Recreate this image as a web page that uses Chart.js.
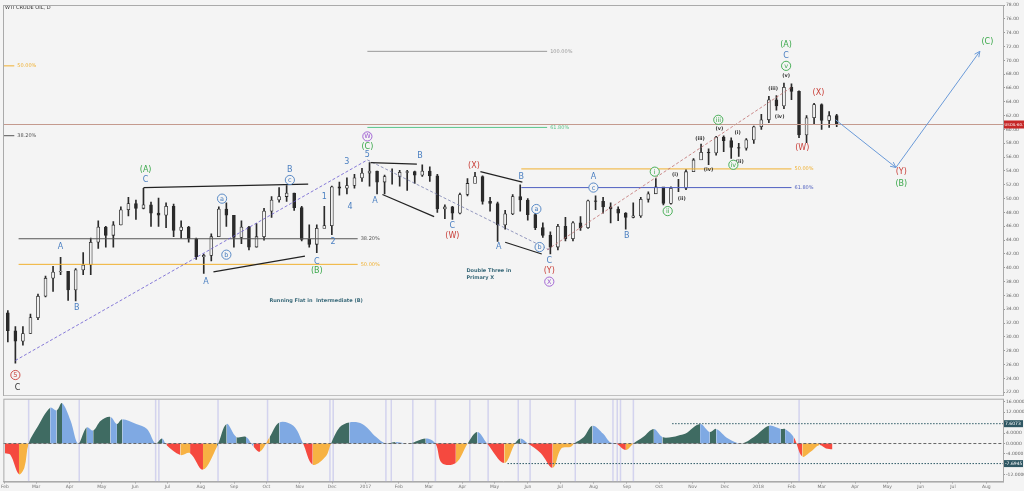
<!DOCTYPE html>
<html><head><meta charset="utf-8">
<script src="https://cdn.jsdelivr.net/npm/chart.js@4"></script>
<style>
html,body{margin:0;padding:0;background:#f4f4f4;width:1024px;height:491px;overflow:hidden;font-family:"DejaVu Sans",sans-serif}
#c1{position:absolute;left:0;top:0}
#c2{position:absolute;left:0;top:396px}
</style></head><body>
<canvas id="c1" width="1024" height="396"></canvas>
<canvas id="c2" width="1024" height="95"></canvas>
<script>
// ===== DATA =====
// weekly candles, day = days since 1 Feb 2016, first week starts day 0
const weekStartDay = 0;
const firstOpen = 33.5;
const closes = [30.9,29.4,30.5,32.8,35.9,38.5,39.4,39.5,36.8,39.7,40.4,43.7,45.9,44.7,46.2,48.4,49.3,48.6,49.1,47.9,47.6,48.9,45.4,45.9,44.2,41.6,41.8,44.5,48.5,47.6,44.4,45.9,43.0,44.5,48.2,49.8,50.3,50.8,48.7,44.1,43.4,45.7,46.1,51.7,51.5,51.9,53.0,53.7,
54.0,52.4,53.2,53.2,53.8,53.9,53.4,54.0,53.3,48.5,48.8,47.9,50.6,52.2,53.2,49.6,49.3,46.2,47.8,50.3,49.8,47.7,45.8,44.7,43.0,46.0,44.2,46.5,45.8,49.7,49.6,48.8,48.5,47.9,47.3,47.5,49.9,50.7,51.7,49.3,51.5,51.5,53.9,55.6,56.7,56.6,58.9,58.4,57.4,57.3,58.5,60.4,
61.4,64.3,63.4,66.1,65.5,59.2,61.7,63.6,61.3,62.0,60.72];
const highs = [33.8,31.5,31.5,33.3,36.2,38.8,40.2,41.5,39.4,39.9,42.2,44.3,46.8,46.0,46.7,48.8,50.2,49.8,51.5,49.5,50.1,49.4,49.2,46.8,46.0,44.3,42.0,44.9,48.8,49.4,47.6,46.8,46.0,46.4,48.6,50.3,51.6,51.9,50.8,48.9,46.2,46.2,48.9,51.8,52.4,53.0,53.5,54.4,
55.2,54.0,53.4,54.3,54.1,54.1,54.0,54.9,54.6,53.5,49.1,48.9,50.8,52.9,53.8,53.3,50.2,49.5,48.3,50.6,52.0,50.0,48.6,46.5,45.2,46.3,47.3,46.7,47.4,49.8,50.4,50.2,49.4,48.8,48.0,49.4,50.2,51.0,52.9,51.2,51.7,52.8,54.2,55.8,57.9,57.2,59.0,59.1,58.8,58.0,58.7,60.5,
62.2,64.8,64.9,66.7,66.6,65.6,62.0,63.8,63.7,62.6,62.2];
const lows = [29.3,26.2,28.8,30.5,32.5,35.8,36.6,39.0,35.3,35.2,39.0,39.0,42.8,43.0,43.0,46.2,47.5,47.0,48.5,46.0,46.0,45.8,44.5,44.3,43.7,41.2,39.2,41.0,44.5,46.0,43.0,43.5,42.6,43.0,44.0,47.3,49.5,49.6,48.3,43.9,43.0,42.2,45.8,44.8,50.5,50.7,51.5,52.5,
51.8,50.7,50.7,52.1,51.8,51.2,52.2,53.2,52.5,48.0,47.1,47.0,47.8,50.4,52.6,49.2,48.2,43.8,45.6,47.7,48.2,46.9,45.5,44.4,42.0,42.6,43.9,43.9,45.4,45.7,48.4,47.9,46.5,46.8,45.6,47.2,47.3,49.5,51.0,49.1,49.2,51.0,51.3,53.9,56.1,54.9,56.3,56.8,55.8,56.1,57.0,58.0,
60.0,61.0,62.8,63.0,64.3,58.8,58.1,60.7,60.0,60.3,60.4];
// oscillator (day, value)
const oscDays = [0,5,13,18,22,30,42,48,53,61,68,76,82,89,98,104,109,122,132,140,146,150,163,172,184,197,206,215,224,231,237,246,255,268,277,286,298,303,311,320,332,345,354,363,376,391,400,406,419,430,439,448,464,474,479,486,498,509,517,526,529,538,546,556,562,568,577,584,593,603,611,620,626,632,646,655,661,672,684,696,710,721,725,733,741,749,757,763,769];
const oscVals = [-3.7,-4.3,-11.8,-9.3,0,6.2,13.7,12.7,15.5,8.7,0,6.2,5,8.7,10.2,7.5,9.3,7.5,5.6,0,1.9,-0.6,-4.4,-3.7,-10,-1.2,7.5,2.5,2.5,-1.2,-3.1,2.5,8.1,6.8,0,-8.1,-5,0,6.2,8.1,7.5,2.5,0,0.6,0,1.9,0,-7.5,-7.5,0,4.4,0,-7.5,0,1.9,0,-3.7,-9.3,-1.9,-1.2,0,2.5,6.8,3.7,0.6,0,-2.5,0,2.5,5.6,2.5,2.5,3.1,3.7,7.5,4.4,5.6,1.9,0,2.5,6.8,5.6,5.6,2.5,-5,-3.1,-0.6,-1.9,-2.2];
const oscUpper = 7.6073, oscLower = -7.6945;
const vBandDays = [22,69,140,143,198,244,302,305,354,359,379,400,432,449,477,488,530,565,569,572,584,738];
const monthLabels = ['Feb','Mar','Apr','May','Jun','Jul','Aug','Sep','Oct','Nov','Dec','2017','Feb','Mar','Apr','May','Jun','Jul','Aug','Sep','Oct','Nov','Dec','2018','Feb','Mar','Apr','May','Jun','Jul','Aug'];
const lastPrice = 60.72;
// annotations: [day, price, text, colour, circled]
const BL='#4a7fc1', GR='#3aa84a', RD='#c9403a', PU='#9b59d0', BK='#333';
const waveLabels = [
[10,24.5,'5',RD,1],[12,22.6,'C',BK,0],
[52,43.0,'A',BL,0],[67,34.2,'B',BL,0],[131,54.2,'(A)',GR,0],[131,52.7,'C',BL,0],[187,37.9,'A',BL,0],[202,50.0,'a',BL,1],[206,41.9,'b',BL,1],
[265,54.2,'B',BL,0],[265,52.7,'c',BL,1],[290,40.8,'C',BL,0],[290,39.6,'(B)',GR,0],[297,50.3,'1',BL,0],[305,43.7,'2',BL,0],[318,55.3,'3',BL,0],[321,48.8,'4',BL,0],
[337,56.3,'5',BL,0],[337,59.0,'W',PU,1],[337,57.5,'(C)',GR,0],[344,49.7,'A',BL,0],[386,56.2,'B',BL,0],[416,46.1,'C',BL,0],[416,44.6,'(W)',RD,0],[436,54.8,'(X)',RD,0],
[459,43.0,'A',BL,0],[480,53.2,'B',BL,0],[494,48.5,'a',BL,1],[497,43.0,'b',BL,1],[506,41.0,'C',BL,0],[506,39.5,'(Y)',RD,0],[506,38.0,'X',PU,1],
[547,53.2,'A',BL,0],[547,51.6,'c',BL,1],[578,44.6,'B',BL,0],
[604,53.9,'i',GR,1],[623,53.4,'(i)',BK,0],[616,48.2,'ii',GR,1],[629,50.0,'(ii)',BK,0],[646,58.7,'(iii)',BK,0],[654,54.2,'(iv)',BK,0],[664,60.1,'(v)',BK,0],[663,61.4,'iii',GR,1],
[681,59.5,'(i)',BK,0],[683,55.3,'(ii)',BK,0],[677,54.9,'iv',GR,1],[714,65.9,'(iii)',BK,0],[720,61.9,'(iv)',BK,0],[726,67.8,'(v)',BK,0],[726,69.2,'v',GR,1],[726,70.7,'C',BL,0],[726,72.2,'(A)',GR,0],
[741,57.4,'(W)',RD,0],[756,65.3,'(X)',RD,0],[833,53.9,'(Y)',RD,0],[833,52.1,'(B)',GR,0],[913,72.7,'(C)',GR,0]];
// fib levels: [day0, day1, price, colour, label]
const fibLevels = [[337,504,71.3,'#999','100.00%'],[337,504,60.3,'#5ac48a','61.80%'],[13,328,44.2,'#555','38.20%'],[13,328,40.5,'#f0b030','50.00%'],
[480,731,54.3,'#f0b030','50.00%'],[480,731,51.6,'#5060c0','61.80%'],[-2,9,69.2,'#f0b030','50.00%'],[-2,9,59.1,'#555','38.20%']];
// trend lines: [d0,p0,d1,p1,colour,dashed]
const trendLines = [[10,26.6,337,55.6,'#6a5ad0',1],[337,55.6,506,42.6,'#7a80b0',1],[504,42.6,731,66.1,'#c07070',1],
[129,51.6,282,52.1,'#222',0],[194,39.4,279,41.7,'#222',0],[340,55.2,383,55.0,'#222',0],[351,50.6,399,47.4,'#222',0],[442,53.9,481,52.4,'#222',0],[465,43.7,499,42.0,'#222',0]];
const projection = [[772,61.4],[828,54.5],[906,71.3]];
const notes = [[246,35.2,'Running Flat in  Intermediate (B)'],[429,39.6,'Double Three in'],[429,38.6,'Primary X']];

// ===== CHART =====
const X0=-1.5, X1=927.5;
const monthDays = monthLabels.map((l,i)=>Math.round((new Date(Date.UTC(2016,1+i,1))-new Date(Date.UTC(2016,1,1)))/864e5));
const bodies=[], wicks=[], bodyCols=[];
let prev=firstOpen;
closes.forEach((c,i)=>{const d=weekStartDay+i*7+3; bodies.push({x:d,y:[prev,c]}); wicks.push({x:d,y:[lows[i],highs[i]]}); bodyCols.push(c>=prev?'#f0f0f0':'#2a2a2a'); prev=c;});

const annot = {id:'annot', afterDatasetsDraw(ch){
  const c=ch.ctx,x=ch.scales.x,y=ch.scales.y,a=ch.chartArea;
  c.save();
  c.beginPath();c.rect(a.left,a.top,a.right-a.left,a.bottom-a.top);c.clip();
  fibLevels.forEach(f=>{c.strokeStyle=f[3];c.lineWidth=1;c.setLineDash([]);const yy=y.getPixelForValue(f[2]);c.beginPath();c.moveTo(x.getPixelForValue(f[0]),yy);c.lineTo(x.getPixelForValue(f[1]),yy);c.stroke();
    c.fillStyle=f[3];c.font='5px DejaVu Sans';c.textAlign='left';c.textBaseline='middle';c.fillText(f[4],x.getPixelForValue(f[1])+3,yy);});
  trendLines.forEach(t=>{c.strokeStyle=t[4];c.lineWidth=t[5]?0.8:1.2;c.setLineDash(t[5]?[3,2]:[]);c.beginPath();c.moveTo(x.getPixelForValue(t[0]),y.getPixelForValue(t[1]));c.lineTo(x.getPixelForValue(t[2]),y.getPixelForValue(t[3]));c.stroke();});
  c.setLineDash([]);
  const yl=y.getPixelForValue(lastPrice);c.strokeStyle='#c49a8e';c.lineWidth=1;c.beginPath();c.moveTo(a.left,yl);c.lineTo(a.right,yl);c.stroke();
  c.strokeStyle='#6a9ad8';c.lineWidth=1;c.beginPath();projection.forEach((p,i)=>{const px=x.getPixelForValue(p[0]),py=y.getPixelForValue(p[1]);i?c.lineTo(px,py):c.moveTo(px,py);});c.stroke();
  const arrow=(p0,p1)=>{const x0=x.getPixelForValue(p0[0]),y0=y.getPixelForValue(p0[1]),x1=x.getPixelForValue(p1[0]),y1=y.getPixelForValue(p1[1]);const an=Math.atan2(y1-y0,x1-x0);c.beginPath();c.moveTo(x1-6*Math.cos(an-0.45),y1-6*Math.sin(an-0.45));c.lineTo(x1,y1);c.lineTo(x1-6*Math.cos(an+0.45),y1-6*Math.sin(an+0.45));c.stroke();};
  arrow(projection[0],projection[1]);arrow(projection[1],projection[2]);
  c.textAlign='center';c.textBaseline='middle';
  waveLabels.forEach(w=>{const px=x.getPixelForValue(w[0]),py=y.getPixelForValue(w[1]);c.fillStyle=w[3];
    if(w[4]){c.font='6.5px DejaVu Sans';c.beginPath();c.arc(px,py,4.6,0,7);c.strokeStyle=w[3];c.lineWidth=0.9;c.fillStyle='#f4f4f4';c.fill();c.stroke();c.fillStyle=w[3];c.fillText(w[2],px,py+0.3);}
    else{c.font=(w[3]===BK&&w[2].length>1?'bold 5px':'8px')+' DejaVu Sans';c.fillText(w[2],px,py);}});
  c.font='bold 5px DejaVu Sans';c.fillStyle='#3a6a7a';c.textAlign='left';
  notes.forEach(n=>c.fillText(n[2],x.getPixelForValue(n[0]),y.getPixelForValue(n[1])));
  c.restore();
  c.save();c.fillStyle='#333';c.font='5px DejaVu Sans';c.textBaseline='middle';c.textAlign='left';c.fillText('WTI CRUDE OIL, D',5,8);
  c.fillStyle='#c62828';c.fillRect(a.right+1,yl-4,21,8);c.fillStyle='#fff';c.font='3.8px DejaVu Sans';c.fillText('USOIL·60.72',a.right+1.5,yl);
  c.strokeStyle='#aaa';c.lineWidth=1;c.strokeRect(a.left+0.5,a.top+0.5,a.right-a.left,a.bottom-a.top+3);
  c.restore();
}};

new Chart(document.getElementById('c1'),{type:'bar',
 data:{datasets:[
  {data:wicks,backgroundColor:'#2a2a2a',barThickness:1,grouped:false,order:2},
  {data:bodies,backgroundColor:bodyCols,borderColor:'#2a2a2a',borderWidth:0.8,borderSkipped:false,barThickness:3,grouped:false,order:1}]},
 options:{responsive:false,animation:false,events:[],
  layout:{padding:{left:3,top:5,bottom:0,right:0}},
  plugins:{legend:{display:false},tooltip:{enabled:false}},
  scales:{x:{type:'linear',min:X0,max:X1,display:false,offset:false},
   y:{position:'right',min:22,max:78,afterFit:s=>{s.width=21;},
    afterBuildTicks:s=>{s.ticks=[];for(let v=22;v<=78;v+=2)s.ticks.push({value:v});},
    ticks:{font:{size:4.5,family:'DejaVu Sans'},color:'#666',padding:1,callback:v=>v.toFixed(2)},
    grid:{drawOnChartArea:false,tickLength:2,color:'#999'},border:{color:'#aaa'}}}},
 plugins:[annot]});

const GREEN='#3f6b62',BLUE='#7fa9e3',RED='#f5493f',ORANGE='#f7b243';
const segColor=ctx=>{const a=ctx.p0.parsed.y,b=ctx.p1.parsed.y,m=(a+b)/2;if(m>=0)return b>=a?GREEN:BLUE;return b<=a?RED:ORANGE;};
const lower={id:'lower',beforeDatasetsDraw(ch){const c=ch.ctx,x=ch.scales.x,a=ch.chartArea;c.save();c.strokeStyle='rgba(170,170,230,0.45)';c.lineWidth=1.5;
  vBandDays.forEach(d=>{const px=x.getPixelForValue(d);c.beginPath();c.moveTo(px,a.top);c.lineTo(px,a.bottom);c.stroke();});c.restore();},
 afterDatasetsDraw(ch){const c=ch.ctx,x=ch.scales.x,y=ch.scales.y,a=ch.chartArea;c.save();
  const hl=(v,d0,dash,col)=>{const py=y.getPixelForValue(v);c.strokeStyle=col;c.setLineDash(dash);c.lineWidth=1;c.beginPath();c.moveTo(x.getPixelForValue(d0),py);c.lineTo(a.right,py);c.stroke();};
  hl(0,X0,[3,2],'#666');hl(oscUpper,620,[1.5,1.5],'#2e5a66');hl(oscLower,467,[1.5,1.5],'#2e5a66');c.setLineDash([]);
  [[oscUpper,'7.6073'],[oscLower,'-7.6945']].forEach(l=>{const py=y.getPixelForValue(l[0]);c.fillStyle='#2f5763';c.fillRect(a.right+1,py-3.5,19,7);c.fillStyle='#fff';c.font='4.5px DejaVu Sans';c.textBaseline='middle';c.fillText(l[1],a.right+2,py);});
  c.strokeStyle='#aaa';c.strokeRect(a.left+0.5,a.top-0.5,a.right-a.left,a.bottom-a.top+1);c.restore();}};

new Chart(document.getElementById('c2'),{type:'line',
 data:{datasets:[{data:oscDays.map((d,i)=>({x:d,y:oscVals[i]})),borderWidth:0,pointRadius:0,tension:0.35,fill:'origin',
   segment:{backgroundColor:segColor,borderColor:segColor},backgroundColor:GREEN}]},
 options:{responsive:false,animation:false,events:[],
  layout:{padding:{left:3,top:2,right:0,bottom:0}},
  plugins:{legend:{display:false},tooltip:{enabled:false}},
  scales:{x:{type:'linear',min:X0,max:X1,afterBuildTicks:s=>{s.ticks=monthDays.map(v=>({value:v}));},
    ticks:{autoSkip:false,maxRotation:0,font:{size:4.5,family:'DejaVu Sans'},color:'#777',padding:1,callback:(v,i)=>monthLabels[i]},
    grid:{drawOnChartArea:false,tickLength:2,color:'#aaa'},border:{color:'#aaa'}},
   y:{position:'right',min:-14.6,max:16.8,afterFit:s=>{s.width=21;},
    afterBuildTicks:s=>{s.ticks=[16,12,4,0,-4,-12].map(v=>({value:v}));},
    ticks:{font:{size:4.5,family:'DejaVu Sans'},color:'#666',padding:1,callback:v=>v.toFixed(4)},
    grid:{drawOnChartArea:false,tickLength:2,color:'#999'},border:{color:'#aaa'}}}},
 plugins:[lower]});
</script></body></html>
